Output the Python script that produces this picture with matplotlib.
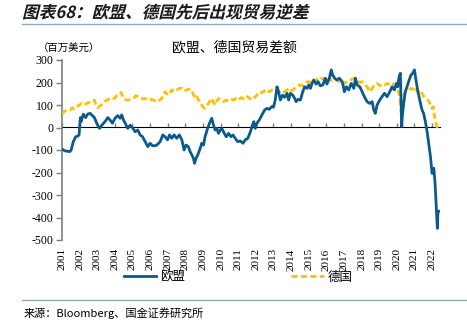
import matplotlib
matplotlib.use("Agg")
import matplotlib.pyplot as plt
import numpy as np
from matplotlib.font_manager import FontProperties
from matplotlib.textpath import TextPath
from matplotlib.patches import PathPatch
from matplotlib.transforms import Affine2D
from matplotlib.lines import Line2D

plt.rcParams['font.family'] = ['Noto Sans CJK SC', 'DejaVu Sans']

# 欧盟贸易差额 (百万美元), time as decimal year
eu_year = [2001.00, 2001.17, 2001.45, 2001.52, 2001.64, 2001.78, 2001.90, 2001.97, 2002.02, 2002.05,
           2002.08, 2002.21, 2002.34, 2002.45, 2002.59, 2002.72, 2002.84, 2002.97, 2003.07, 2003.13,
           2003.26, 2003.44, 2003.60, 2003.73, 2003.86, 2004.01, 2004.16, 2004.30, 2004.39, 2004.49,
           2004.62, 2004.73, 2004.86, 2005.00, 2005.15, 2005.30, 2005.43, 2005.57, 2005.72, 2005.87,
           2006.00, 2006.13, 2006.28, 2006.38, 2006.57, 2006.72, 2006.85, 2006.99, 2007.10, 2007.23,
           2007.36, 2007.51, 2007.66, 2007.80, 2007.93, 2008.04, 2008.17, 2008.27, 2008.37, 2008.46,
           2008.52, 2008.61, 2008.74, 2008.84, 2008.93, 2009.03, 2009.12, 2009.26, 2009.37, 2009.50,
           2009.60, 2009.69, 2009.79, 2009.88, 2009.98, 2010.07, 2010.21, 2010.32, 2010.45, 2010.59,
           2010.70, 2010.83, 2010.97, 2011.12, 2011.27, 2011.40, 2011.54, 2011.68, 2011.78, 2011.88,
           2011.97, 2012.06, 2012.19, 2012.35, 2012.50, 2012.63, 2012.76, 2012.91, 2013.00, 2013.10,
           2013.20, 2013.29, 2013.39, 2013.52, 2013.64, 2013.77, 2013.86, 2013.96, 2014.09, 2014.21,
           2014.28, 2014.40, 2014.53, 2014.66, 2014.77, 2014.91, 2015.00, 2015.10, 2015.19, 2015.28,
           2015.42, 2015.53, 2015.66, 2015.80, 2015.94, 2016.03, 2016.17, 2016.28, 2016.36, 2016.47,
           2016.60, 2016.74, 2016.89, 2016.95, 2017.02, 2017.14, 2017.27, 2017.41, 2017.56, 2017.65,
           2017.75, 2017.90, 2018.03, 2018.16, 2018.31, 2018.46, 2018.60, 2018.69, 2018.78, 2018.88,
           2019.03, 2019.16, 2019.30, 2019.45, 2019.60, 2019.73, 2019.86, 2019.98, 2020.05, 2020.13,
           2020.20, 2020.23, 2020.28, 2020.30, 2020.39, 2020.48, 2020.58, 2020.67, 2020.80, 2020.90,
           2021.00, 2021.07, 2021.18, 2021.30, 2021.43, 2021.52, 2021.62, 2021.72, 2021.81, 2021.91,
           2022.00, 2022.10, 2022.17, 2022.25, 2022.30, 2022.33, 2022.38]
eu_bal = [-96, -104, -107, -100, -63, -41, -38, -33, 26, 44,
          26, 59, 44, 59, 63, 53, 44, 19, 4, -4,
          10, 26, 44, 33, 19, 41, 53, 41, 56, 33,
          14, -4, 10, -1, -19, -11, -33, -41, -63, -85,
          -70, -81, -81, -78, -63, -33, -41, -55, -33, -48,
          -33, -48, -33, -55, -100, -78, -85, -107, -122, -137,
          -159, -137, -115, -93, -70, -78, -41, -4, 19, 41,
          10, -11, -4, -26, -11, -4, -26, -41, -26, -41,
          -33, -48, -63, -60, -70, -55, -48, -22, 4, 26,
          -4, 19, 33, 56, 78, 85, 81, 93, 90, 122,
          181, 159, 122, 144, 134, 152, 122, 152, 144, 129,
          115, 125, 122, 159, 181, 174, 189, 174, 196, 211,
          193, 204, 185, 189, 219, 193, 219, 256, 233, 219,
          211, 219, 204, 189, 159, 181, 167, 196, 174, 219,
          189, 181, 159, 137, 115, 107, 115, 78, 63, 100,
          122, 137, 152, 137, 159, 181, 167, 196, 181, 226,
          241, 152, 4, 41, 107, 159, 181, 204, 233, 241,
          256, 219, 167, 122, 78, 63, 26, -19, -70, -130,
          -204, -181, -248, -367, -448, -381, -372]

# 德国贸易差额 (百万美元)
de_year = [2001.00, 2001.10, 2001.27, 2001.45, 2001.59, 2001.70, 2001.82, 2001.97, 2002.12, 2002.27,
           2002.40, 2002.53, 2002.69, 2002.84, 2002.92, 2003.02, 2003.12, 2003.26, 2003.41, 2003.54,
           2003.67, 2003.82, 2003.97, 2004.10, 2004.24, 2004.35, 2004.49, 2004.62, 2004.77, 2004.92,
           2005.05, 2005.19, 2005.34, 2005.49, 2005.62, 2005.76, 2005.91, 2006.06, 2006.19, 2006.38,
           2006.57, 2006.72, 2006.85, 2006.99, 2007.10, 2007.23, 2007.36, 2007.51, 2007.66, 2007.80,
           2007.93, 2008.08, 2008.23, 2008.37, 2008.46, 2008.56, 2008.65, 2008.74, 2008.84, 2008.93,
           2009.03, 2009.12, 2009.26, 2009.37, 2009.50, 2009.60, 2009.69, 2009.79, 2009.88, 2010.01,
           2010.17, 2010.32, 2010.45, 2010.59, 2010.74, 2010.89, 2011.02, 2011.16, 2011.31, 2011.46,
           2011.59, 2011.78, 2011.93, 2012.06, 2012.19, 2012.35, 2012.50, 2012.63, 2012.76, 2012.91,
           2013.06, 2013.20, 2013.33, 2013.48, 2013.64, 2013.77, 2013.90, 2014.05, 2014.20, 2014.34,
           2014.47, 2014.62, 2014.77, 2014.91, 2015.04, 2015.19, 2015.34, 2015.47, 2015.60, 2015.76,
           2015.91, 2016.03, 2016.17, 2016.32, 2016.47, 2016.60, 2016.74, 2016.89, 2016.99, 2017.18,
           2017.37, 2017.56, 2017.75, 2017.90, 2018.03, 2018.16, 2018.31, 2018.46, 2018.60, 2018.73,
           2018.88, 2019.03, 2019.16, 2019.30, 2019.45, 2019.60, 2019.73, 2019.86, 2019.98, 2020.05,
           2020.13, 2020.20, 2020.26, 2020.30, 2020.35, 2020.43, 2020.54, 2020.67, 2020.80, 2020.90,
           2021.03, 2021.16, 2021.31, 2021.43, 2021.54, 2021.65, 2021.77, 2021.88, 2021.99, 2022.07,
           2022.14, 2022.22, 2022.30]
de_bal = [59, 70, 78, 78, 88, 82, 88, 100, 107, 100,
          107, 111, 115, 122, 103, 88, 93, 103, 115, 122,
          126, 122, 129, 141, 144, 156, 129, 122, 122, 126,
          129, 141, 137, 133, 126, 129, 122, 125, 122, 115,
          122, 137, 159, 144, 152, 167, 159, 167, 174, 174,
          163, 167, 171, 167, 144, 129, 137, 122, 115, 100,
          88, 85, 100, 115, 129, 111, 100, 118, 129, 122,
          115, 122, 118, 126, 122, 129, 122, 133, 129, 141,
          133, 122, 134, 144, 159, 155, 163, 170, 159, 167,
          163, 170, 159, 152, 159, 167, 174, 163, 174, 181,
          189, 185, 196, 204, 200, 211, 204, 215, 208, 219,
          211, 204, 219, 208, 219, 211, 204, 208, 196, 204,
          211, 219, 208, 200, 204, 193, 181, 159, 174, 189,
          196, 185, 193, 189, 196, 193, 200, 189, 185, 167,
          152, 107, 48, 85, 122, 152, 163, 167, 174, 170,
          181, 159, 167, 152, 137, 129, 122, 107, 85, 93,
          48, 19, -4]

years = list(range(2001, 2023))
y_ticks = [300, 200, 100, 0, -100, -200, -300, -400, -500]

blue = '#0B5A8C'
gold = '#FFC000'
rule = '#8EA9B9'
serif = 'Liberation Serif'

fig = plt.figure(figsize=(4.67, 3.24), dpi=100)
ax = fig.add_axes([62 / 467, 1 - 240 / 324, 378 / 467, 180 / 324])

ax.plot(de_year, de_bal, color=gold, lw=2.0, dashes=(2.2, 1.2), zorder=3)
ax.plot(eu_year, eu_bal, color=blue, lw=2.0, zorder=4)

ax.set_xlim(2001, 2022.45)
ax.set_ylim(-500, 300)
ax.set_yticks(y_ticks)
ax.set_yticklabels([str(v) for v in y_ticks], fontfamily=serif, fontsize=8.5)
ax.set_xticks(years)
ax.set_xticklabels([str(y) for y in years], rotation=90, fontfamily=serif, fontsize=8)
ax.tick_params(axis='x', length=0, pad=6)
ax.tick_params(axis='y', length=4, width=1, color='#7f7f7f', direction='out', pad=2)
for s in ['top', 'right', 'bottom']:
    ax.spines[s].set_visible(False)
ax.spines['left'].set_color('#7f7f7f')
ax.spines['left'].set_linewidth(1.2)

# zero line carrying the year ticks
zero = ax.secondary_xaxis(500 / 800)
zero.set_xticks(years)
zero.set_xticklabels([])
zero.tick_params(length=3, width=1, color='#7f7f7f', direction='out')
zero.spines['bottom'].set_color('#999999')
zero.spines['bottom'].set_linewidth(1.5)
zero.spines['bottom'].set_zorder(2)

fig.text(234 / 467, 1 - 47 / 324, '欧盟、德国贸易差额', ha='center', va='center', fontsize=10)
fig.text(38 / 467, 1 - 49 / 324, '（百万美元）', ha='left', va='center', fontsize=7.5)

# legend
handles = [Line2D([], [], color=blue, lw=2.0),
           Line2D([], [], color=gold, lw=2.0, dashes=(2.2, 1.2))]
fig.legend(handles, ['欧盟', '德国'], loc='center', bbox_to_anchor=(238 / 467, 1 - 277 / 324),
           ncol=2, frameon=False, fontsize=9, handlelength=2.6, handletextpad=0.3,
           columnspacing=8.5)

# header title, slanted
fp = FontProperties(family='Noto Sans CJK SC', weight='bold')
tp = TextPath((0, 0), '图表68：欧盟、德国先后出现贸易逆差', size=12, prop=fp)
tr = Affine2D().skew_deg(14, 0).scale(1 / 72).translate(22 / 100, (324 - 18) / 100) + fig.dpi_scale_trans
fig.add_artist(PathPatch(tp, transform=tr, facecolor='#1a1a1a', edgecolor='none'))

fig.add_artist(Line2D([22 / 467, 1], [1 - 24 / 324] * 2, color=rule, lw=1.0))
fig.add_artist(Line2D([22 / 467, 1], [1 - 300 / 324] * 2, color=rule, lw=1.0))
fig.text(24 / 467, 1 - 313 / 324, '来源：Bloomberg、国金证券研究所', ha='left', va='center', fontsize=8)

fig.savefig('out.png', dpi=100)
